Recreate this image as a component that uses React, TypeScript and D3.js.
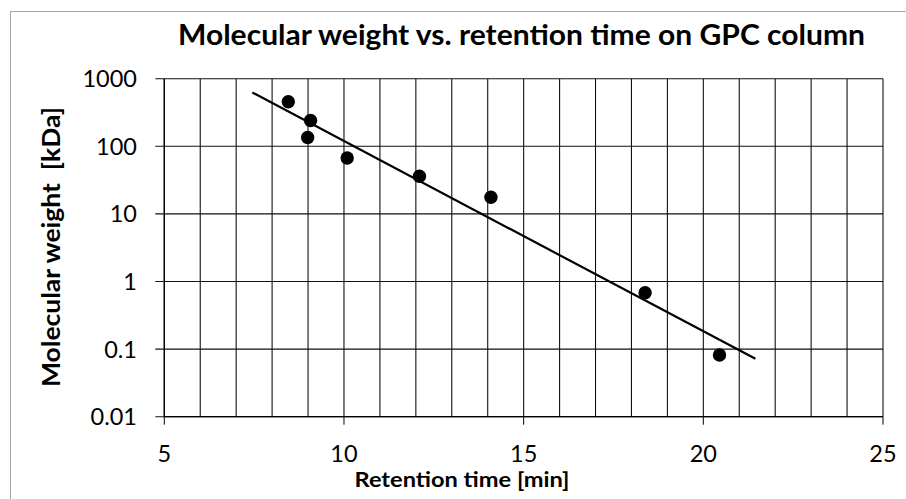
import React from "react";
import * as d3 from "d3";

// GPC calibration points
const retentionTime = [8.45, 8.99, 9.07, 10.09, 12.1, 14.09, 18.38, 20.45];
const molecularWeight = [455, 135, 241, 67, 36, 17.6, 0.68, 0.082];

const xTicks = [5, 10, 15, 20, 25];
const xGrid = d3.range(5, 26, 1);
const yTicks = [0.01, 0.1, 1, 10, 100, 1000];
const trendForecast = 1; // trendline extended 1 min each side

const W = 906;
const H = 499;
const plot = { left: 164.3, right: 883, top: 78.7, bottom: 416.7 };
const font = "Lato, 'Open Sans', sans-serif";

const App = () => {
  const x = d3.scaleLinear().domain([5, 25]).range([plot.left, plot.right]);
  const y = d3.scaleLog().domain([0.01, 1000]).range([plot.bottom, plot.top]);

  // exponential (log-linear) least squares fit, like the spreadsheet trendline
  const logs = molecularWeight.map((v) => Math.log10(v));
  const mx = d3.mean(retentionTime);
  const my = d3.mean(logs);
  let sxy = 0;
  let sxx = 0;
  retentionTime.forEach((t, i) => {
    sxy += (t - mx) * (logs[i] - my);
    sxx += (t - mx) * (t - mx);
  });
  const slope = sxy / sxx;
  const icpt = my - slope * mx;
  const t0 = d3.min(retentionTime) - trendForecast;
  const t1 = d3.max(retentionTime) + trendForecast;
  const trend = [t0, t1].map((t) => [t, Math.pow(10, icpt + slope * t)]);
  const line = d3
    .line()
    .x((d) => x(d[0]))
    .y((d) => y(d[1]));

  return (
    <>
      <style>{"body{margin:0}"}</style>
      <svg width={W} height={H} style={{ display: "block", background: "#fff" }}>
        <rect x={10.5} y={11.5} width={1000} height={1000} fill="#fff" stroke="#a6a6a6" />

        {/* gridlines */}
        {xGrid.map((t) => (
          <line key={"gx" + t} x1={x(t)} x2={x(t)} y1={plot.top} y2={plot.bottom} stroke="#111" strokeWidth={1.1} />
        ))}
        {yTicks.map((t) => (
          <line key={"gy" + t} x1={plot.left - 9} x2={plot.right} y1={y(t)} y2={y(t)} stroke="#111" strokeWidth={1.1} />
        ))}

        {/* axes */}
        <line x1={plot.left} x2={plot.left} y1={plot.top} y2={plot.bottom} stroke="#000" strokeWidth={1.3} />
        <line x1={plot.left} x2={plot.right} y1={plot.bottom} y2={plot.bottom} stroke="#000" strokeWidth={1.3} />
        {xTicks.map((t) => (
          <line key={"tx" + t} x1={x(t)} x2={x(t)} y1={plot.bottom} y2={plot.bottom + 8} stroke="#000" />
        ))}

        {/* tick labels */}
        {yTicks.map((t) => (
          <text key={"ly" + t} x={137} y={y(t)} dy="0.36em" textAnchor="end" fontFamily={font} fontSize={23.5} fill="#000">
            {String(t)}
          </text>
        ))}
        {xTicks.map((t) => (
          <text key={"lx" + t} x={x(t)} y={462} textAnchor="middle" fontFamily={font} fontSize={23.5} fill="#000">
            {t}
          </text>
        ))}

        {/* trendline */}
        <path d={line(trend)} fill="none" stroke="#000" strokeWidth={2.2} />

        {/* points */}
        {retentionTime.map((t, i) => (
          <circle key={"p" + i} cx={x(t)} cy={y(molecularWeight[i])} r={6.7} fill="#000" />
        ))}

        {/* titles */}
        <text x={521.5} y={44.5} textAnchor="middle" fontFamily={font} fontWeight="bold" fontSize={28} textLength={687} lengthAdjust="spacingAndGlyphs">
          Molecular weight vs. retention time on GPC column
        </text>
        <text x={462} y={486.7} textAnchor="middle" fontFamily={font} fontWeight="bold" fontSize={21} textLength={215} lengthAdjust="spacingAndGlyphs">
          Retention time [min]
        </text>
        <text
          transform="translate(60,247) rotate(-90)"
          textAnchor="middle"
          fontFamily={font}
          fontWeight="bold"
          fontSize={25}
          textLength={280}
          lengthAdjust="spacingAndGlyphs"
          style={{ whiteSpace: "pre" }}
        >
          {"Molecular weight  [kDa]"}
        </text>
      </svg>
    </>
  );
};

export default App;
